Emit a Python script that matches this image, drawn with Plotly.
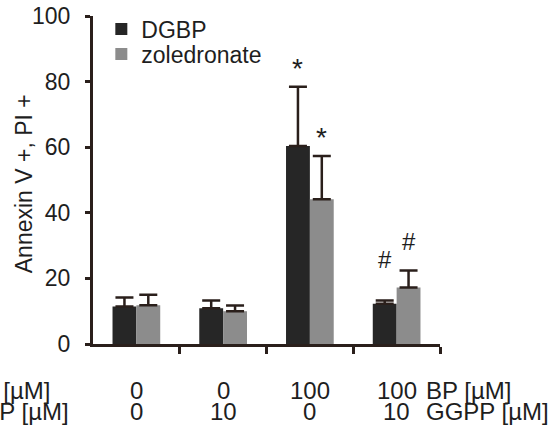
import plotly.graph_objects as go

# ---- data ----
groups = [0, 1, 2, 3]
bp_conc = ["0", "0", "100", "100"]
ggpp_conc = ["0", "10", "0", "10"]
dgbp_mean = [11.4, 10.9, 60.4, 12.3]
dgbp_err = [2.8, 2.4, 18.0, 1.0]
zol_mean = [11.8, 10.0, 44.1, 17.2]
zol_err = [3.2, 1.7, 13.2, 5.2]
dgbp_sig = ["", "", "*", "#"]
zol_sig = ["", "", "*", "#"]
y_ticks = [0, 20, 40, 60, 80, 100]
y_title = "Annexin V +, PI +"

FONT = "Liberation Sans, Arial, sans-serif"
TXT = "#1e1e1e"
AX = "#2a1f1b"
BLACK = "#262626"
GRAY = "#8c8c8c"

fig = go.Figure()
fig.add_trace(go.Bar(
    x=groups, y=dgbp_mean, name="DGBP", legend="legend",
    marker=dict(color=BLACK, line=dict(width=0)),
    error_y=dict(type="data", array=dgbp_err, arrayminus=[0]*4, symmetric=False,
                 color=AX, thickness=2.5, width=9)))
fig.add_trace(go.Bar(
    x=groups, y=zol_mean, name="zoledronate", legend="legend2",
    marker=dict(color=GRAY, line=dict(width=0)),
    error_y=dict(type="data", array=zol_err, arrayminus=[0]*4, symmetric=False,
                 color=AX, thickness=2.5, width=9)))

annotations = []
half = 0.138
sym_shift = {"*": 1, "#": 14}
for i, g in enumerate(groups):
    for sig, mean, err, dx, extra in ((dgbp_sig[i], dgbp_mean[i], dgbp_err[i], -half, 1),
                                      (zol_sig[i], zol_mean[i], zol_err[i], half, 0)):
        if sig:
            shift = sym_shift[sig] + (11 if (sig == "#" and extra) else 0)
            annotations.append(dict(
                x=g + dx, y=mean + err, xref="x", yref="y", text=sig, showarrow=False,
                yanchor="bottom", yshift=shift,
                font=dict(size=28 if sig == "*" else 24, family=FONT, color=TXT)))
    annotations.append(dict(x=g, y=-0.142, xref="x", yref="paper", text=bp_conc[i],
                            showarrow=False, yanchor="middle",
                            font=dict(size=24, family=FONT, color=TXT)))
    annotations.append(dict(x=g, y=-0.206, xref="x", yref="paper", text=ggpp_conc[i],
                            showarrow=False, yanchor="middle",
                            font=dict(size=24, family=FONT, color=TXT)))

row_labels = ["BP [µM]", "GGPP [µM]"]
for yy, lab in zip([-0.142, -0.206], row_labels):
    annotations.append(dict(x=3.31, y=yy, xref="x", yref="paper", text=lab, showarrow=False,
                            xanchor="left", yanchor="middle",
                            font=dict(size=24, family=FONT, color=TXT)))
    annotations.append(dict(x=-0.246, y=yy, xref="paper", yref="paper", text=lab, showarrow=False,
                            xanchor="center", yanchor="middle",
                            font=dict(size=24, family=FONT, color=TXT)))

# y-axis title
annotations.append(dict(x=-0.199, y=0.49, xref="paper", yref="paper", text=y_title,
                        showarrow=False, textangle=-90, xanchor="center", yanchor="middle",
                        font=dict(size=23, family=FONT, color=TXT)))

leg_common = dict(x=0.024, xanchor="left", yanchor="middle", bgcolor="rgba(0,0,0,0)",
                  font=dict(size=23, family=FONT, color=TXT), itemwidth=30)

fig.update_layout(
    width=557, height=432,
    margin=dict(l=93, r=117, t=16, b=88, autoexpand=False),
    paper_bgcolor="white", plot_bgcolor="white",
    barmode="group", bargap=0.45, bargroupgap=0,
    font=dict(family=FONT, color=TXT),
    showlegend=True, hovermode=False,
    legend=dict(y=1 - 13 / 328, **leg_common),
    legend2=dict(y=1 - 38 / 328, **leg_common),
    annotations=annotations,
    xaxis=dict(range=[-0.5, 3.5], showgrid=False, zeroline=False, showline=True,
               automargin=False,
               linecolor=AX, linewidth=3, tickmode="array", tickvals=[0.5, 1.5, 2.5, 3.5],
               ticktext=["", "", "", ""], ticks="outside", ticklen=7, tickwidth=3,
               tickcolor=AX, fixedrange=True),
    yaxis=dict(range=[0, 100], showgrid=False, zeroline=False, showline=True,
               automargin=False, ticklabeloverflow="allow",
               linecolor=AX, linewidth=3, tickmode="array", tickvals=y_ticks,
               ticks="outside", ticklen=5, tickwidth=3, tickcolor=AX,
               ticklabelstandoff=10,
               tickfont=dict(size=23, family=FONT, color=TXT)),
)

fig.write_html("out.html", config={"displayModeBar": False, "staticPlot": True},
               post_script="document.body.style.margin='0';document.body.style.overflow='hidden';")
